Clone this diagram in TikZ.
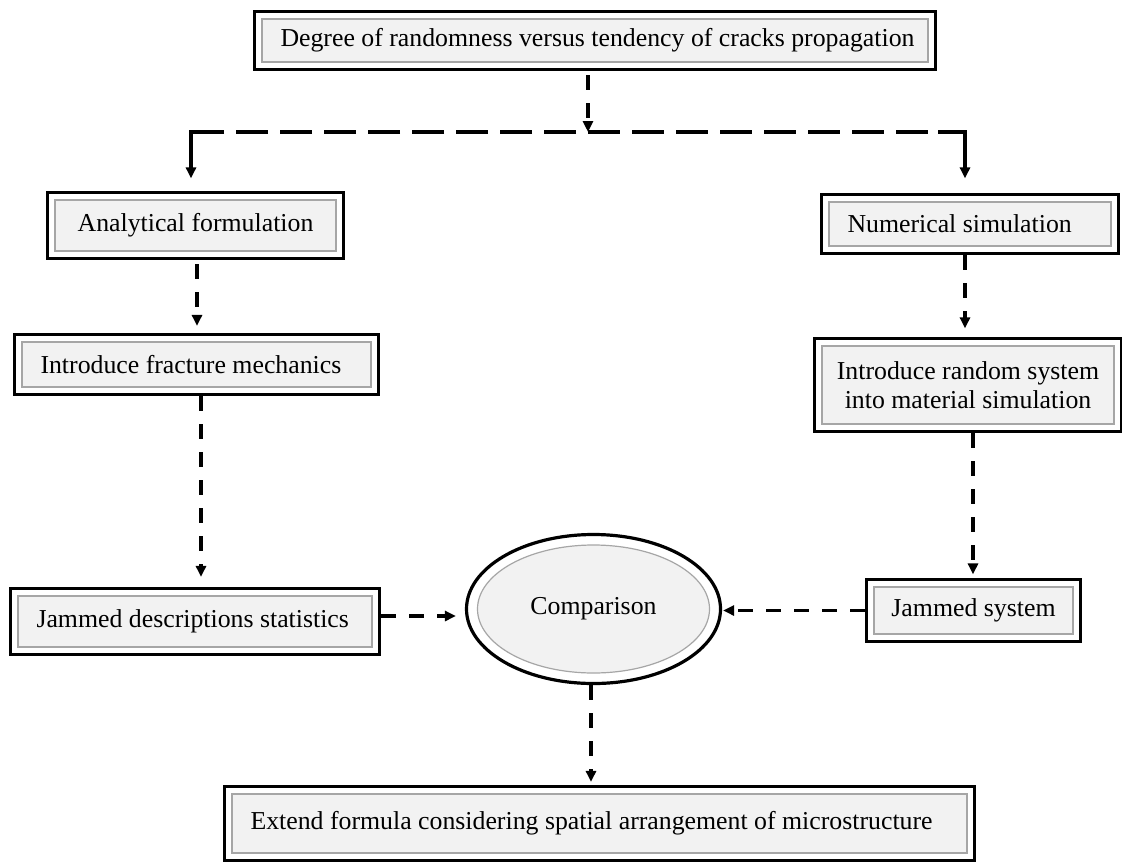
\documentclass[tikz,border=0pt]{standalone}
\usepackage{fontspec}
\setmainfont{Liberation Serif}
\usetikzlibrary{arrows.meta,shapes.geometric}
\definecolor{boxfill}{HTML}{F2F2F2}
\definecolor{innergray}{HTML}{A6A6A6}
\newcommand{\boxfont}{\fontsize{25.8}{29.3}\selectfont}
\newcommand{\linetext}[1]{\mbox{\spaceskip=0pt\xspaceskip=0pt\relax #1}}
\begin{document}
\begin{tikzpicture}[x=1pt,y=-1pt,
  >={Triangle[length=11pt,width=10pt]},
  box/.style={draw=black, line width=3.2pt, fill=white, inner xsep=26pt, inner ysep=0pt, font=\boxfont,
    path picture={\draw[line width=1.2pt, draw=innergray, fill=boxfill]
      ([shift={(7.5pt,-7.5pt)}]path picture bounding box.north west) rectangle
      ([shift={(-7.5pt,7.5pt)}]path picture bounding box.south east);}},
  ellbox/.style={ellipse, draw=black, line width=3.2pt, fill=white, inner sep=0pt, font=\boxfont,
    minimum width=254pt, minimum height=149pt,
    path picture={\draw[line width=1.2pt, draw=innergray, fill=boxfill]
      (path picture bounding box.center) ellipse [x radius=116pt, y radius=64pt];}},
  conn/.style={draw=black, line width=3.3pt, dash pattern=on 15pt off 13pt, ->},
  hdash/.style={draw=black, line width=3.3pt, dash pattern=on 32pt off 12pt},
  solidconn/.style={draw=black, line width=3.3pt, ->}
]
\fill[white] (0,0) rectangle (1122,863);
\useasboundingbox (0,0) rectangle (1122,863);

% boxes
\node[box, minimum width=681pt, minimum height=58pt, text width=629pt, align=left] (top) at (595,40.5)
  {\linetext{Degree of randomness versus tendency of cracks propagation}};
\node[box, minimum width=296pt, minimum height=66pt, align=center, inner xsep=20pt] (ana) at (195.5,225.5)
  {Analytical formulation};
\node[box, minimum width=364pt, minimum height=60pt, text width=312pt, align=left] (frac) at (196.5,364.5)
  {\linetext{Introduce fracture mechanics}};
\node[box, minimum width=369pt, minimum height=66pt, text width=317pt, align=left] (jds) at (195,621.5)
  {\linetext{Jammed descriptions statistics}};
\node[box, minimum width=297pt, minimum height=59pt, text width=245pt, align=left] (num) at (970,224)
  {\linetext{Numerical simulation}};
\node[box, minimum width=307pt, minimum height=93pt, align=center, inner xsep=18pt] (rnd) at (968,385)
  {Introduce random system\\into material simulation};
\node[box, minimum width=214pt, minimum height=62pt, align=center, inner xsep=20pt] (js) at (973.5,610.5)
  {Jammed system};
\node[box, minimum width=750pt, minimum height=74pt, text width=698pt, align=left] (ext) at (599.5,823.5)
  {\linetext{Extend formula considering spatial arrangement of microstructure}};
\node[ellbox] (cmp) at (593.5,609) {Comparison};

% split
\coordinate (J) at (588,132);
\coordinate (cl) at (191,132);
\coordinate (cr) at (965,132);
\draw[conn, shorten <=4pt] (top.south -| J) -- (J);
\draw[hdash, dash phase=32pt] (J) -- (cl);
\draw[hdash] (J) -- (cr);
\draw[solidconn, shorten >=12.5pt] ([xshift=30pt]cl) -- (cl) -- (cl |- ana.north);
\draw[solidconn, shorten >=14.5pt] ([xshift=-27pt]cr) -- (cr) -- (cr |- num.north);

% left column
\draw[conn, shorten <=4pt, shorten >=7pt] ([xshift=1.5pt]ana.south) -- ([xshift=1.5pt]ana.south |- frac.north);
\draw[conn, shorten >=10pt] ([xshift=4.5pt]frac.south) -- ([xshift=4.5pt]frac.south |- jds.north);
\draw[conn, shorten >=9pt] ([yshift=5.5pt]jds.east) -- ([yshift=5.5pt]jds.east -| cmp.west);

% right column
\draw[conn, shorten >=8.5pt] ([xshift=-5pt]num.south) -- ([xshift=-5pt]num.south |- rnd.north);
\draw[conn, shorten >=3.5pt] ([xshift=5pt]rnd.south) -- ([xshift=5pt]rnd.south |- js.north);
\draw[conn, shorten >=1pt] (js.west) -- (js.west -| cmp.east);

% bottom
\draw[conn, shorten >=3pt] ([xshift=-2.5pt]cmp.south) -- ([xshift=-2.5pt]cmp.south |- ext.north);
\end{tikzpicture}
\end{document}
